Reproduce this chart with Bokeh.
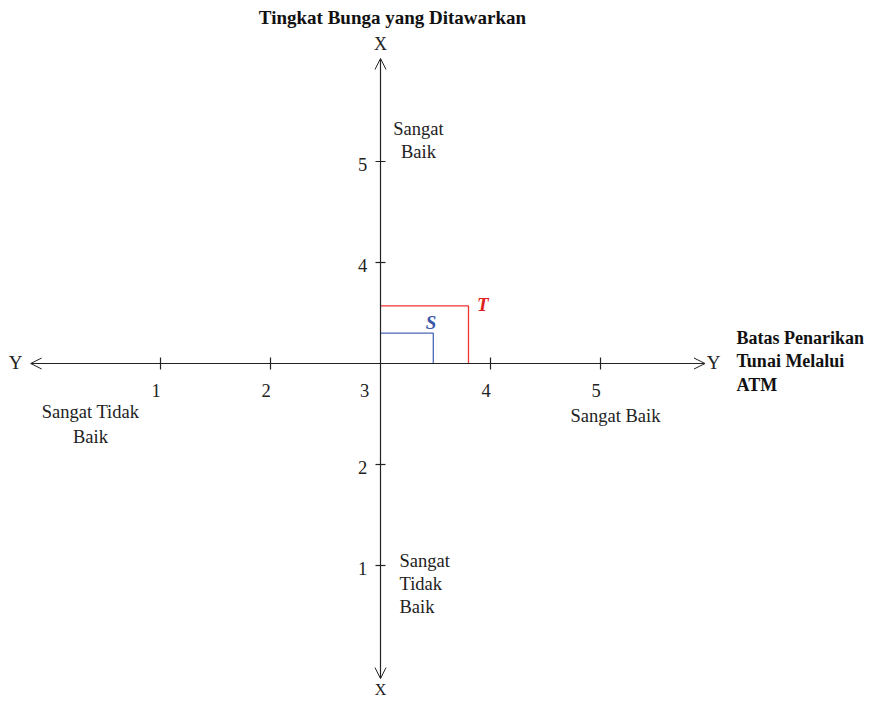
from bokeh.plotting import figure
from bokeh.models import Arrow, OpenHead, Range1d
from bokeh.core.properties import value
from bokeh.embed import file_html
from bokeh.resources import INLINE

# ---- data ----
tick_vals_x = [1, 2, 4, 5]
tick_labels_x = ["1", "2", "4", "5"]
tick_vals_y = [1, 2, 4, 5]
tick_labels_y = ["1", "2", "4", "5"]
center = 3
series_names = ["T", "S"]
series_x = [3.80, 3.48]   # Batas Penarikan Tunai Melalui ATM
series_y = [3.57, 3.30]   # Tingkat Bunga yang Ditawarkan
series_colors = ["#ee3333", "#4a68b8"]
label_colors = ["#e02020", "#3a55a8"]

W, H = 873, 705
PX = 110.0   # pixels per unit, horizontal
PY = 101.0   # pixels per unit, vertical
x0 = center - 380 / PX
y1 = center + 363 / PY

p = figure(width=W, height=H, output_backend="svg", toolbar_location=None,
           x_range=Range1d(x0, x0 + W / PX), y_range=Range1d(y1 - H / PY, y1),
           min_border=0, outline_line_color=None, tools="")
p.xaxis.visible = False
p.yaxis.visible = False
p.xgrid.visible = False
p.ygrid.visible = False
p.background_fill_color = "white"
p.border_fill_color = "white"

FONT = value("Liberation Serif")
FS = "18.5px"

# axes with arrows
xa0, xa1 = -0.18, 5.95
ya0, ya1 = -0.12, 6.02
for (xs, ys, xe, ye) in [(xa0, center, xa1, center), (center, ya0, center, ya1)]:
    p.add_layout(Arrow(x_start=xs, y_start=ys, x_end=xe, y_end=ye,
                       start=OpenHead(size=11, line_width=1, line_color="#222222"),
                       end=OpenHead(size=11, line_width=1, line_color="#222222"),
                       line_color="#222222", line_width=1.2))

# ticks
tx = 6 / PY
p.segment(x0=tick_vals_x, x1=tick_vals_x, y0=[center - tx] * 4, y1=[center + tx] * 4,
          line_color="#222222", line_width=1.2)
ty = 5 / PX
p.segment(x0=[center - ty] * 4, x1=[center + ty] * 4, y0=tick_vals_y, y1=tick_vals_y,
          line_color="#222222", line_width=1.2)

# tick labels
p.text(x=[v - 0.04 for v in tick_vals_x], y=[center - 27 / PY] * 4, text=tick_labels_x,
       text_font=FONT, text_font_size=FS, text_align="center",
       text_baseline="middle", text_color="#222222")
p.text(x=[center - 16 / PX], y=[center - 27 / PY], text=["3"],
       text_font=FONT, text_font_size=FS, text_align="center",
       text_baseline="middle", text_color="#222222")
p.text(x=[center - 18 / PX] * 4, y=[v - 3 / PY for v in tick_vals_y], text=tick_labels_y,
       text_font=FONT, text_font_size=FS, text_align="center",
       text_baseline="middle", text_color="#222222")

# series rectangles (top and right edges)
for nm, sx, sy, c in zip(series_names, series_x, series_y, series_colors):
    p.line(x=[center, sx, sx], y=[sy, sy, center], line_color=c, line_width=1.3)

p.text(x=[series_x[0] + 0.13], y=[series_y[0] + 0.01], text=[series_names[0]],
       text_font=FONT, text_font_size="19px", text_font_style="bold italic",
       text_align="center", text_baseline="middle", text_color=label_colors[0])
p.text(x=[series_x[1] - 0.02], y=[series_y[1] + 0.11], text=[series_names[1]],
       text_font=FONT, text_font_size="19px", text_font_style="bold italic",
       text_align="center", text_baseline="middle", text_color=label_colors[1])

# axis names
p.text(x=[center + 12 / PX], y=[center + 346 / PY], text=["Tingkat Bunga yang Ditawarkan"],
       text_font=FONT, text_font_size="19px", text_font_style="bold",
       text_align="center", text_baseline="middle", text_color="#111111")
p.text(x=[center], y=[center + 320 / PY], text=["X"],
       text_font=FONT, text_font_size="18px", text_align="center",
       text_baseline="middle", text_color="#222222")
p.text(x=[center], y=[center - 326 / PY], text=["X"],
       text_font=FONT, text_font_size="16px", text_align="center",
       text_baseline="middle", text_color="#222222")
p.text(x=[center - 365 / PX, center + 333 / PX], y=[center + 1 / PY, center + 1 / PY],
       text=["Y", "Y"], text_font=FONT, text_font_size="19px", text_align="center",
       text_baseline="middle", text_color="#222222")
p.text(x=[center + 356 / PX] * 3, y=[center + 26 / PY, center + 3 / PY, center - 21 / PY],
       text=["Batas Penarikan", "Tunai Melalui", "ATM"],
       text_font=FONT, text_font_size="18px", text_font_style="bold",
       text_align="left", text_baseline="middle", text_color="#111111")

# quadrant descriptions
def lbl(xs, ys, txt, align="center"):
    p.text(x=xs, y=ys, text=txt, text_font=FONT, text_font_size=FS,
           text_align=align, text_baseline="middle", text_color="#222222")

lbl([center + 38 / PX] * 2, [center + 235 / PY, center + 212 / PY], ["Sangat", "Baik"])
lbl([center - 290 / PX] * 2, [center - 48 / PY, center - 73 / PY], ["Sangat Tidak", "Baik"])
lbl([center + 235 / PX], [center - 52 / PY], ["Sangat Baik"])
lbl([center + 19 / PX] * 3, [center - 197 / PY, center - 220 / PY, center - 243 / PY],
    ["Sangat", "Tidak", "Baik"], align="left")

open("out.html", "w").write(file_html(p, INLINE))
